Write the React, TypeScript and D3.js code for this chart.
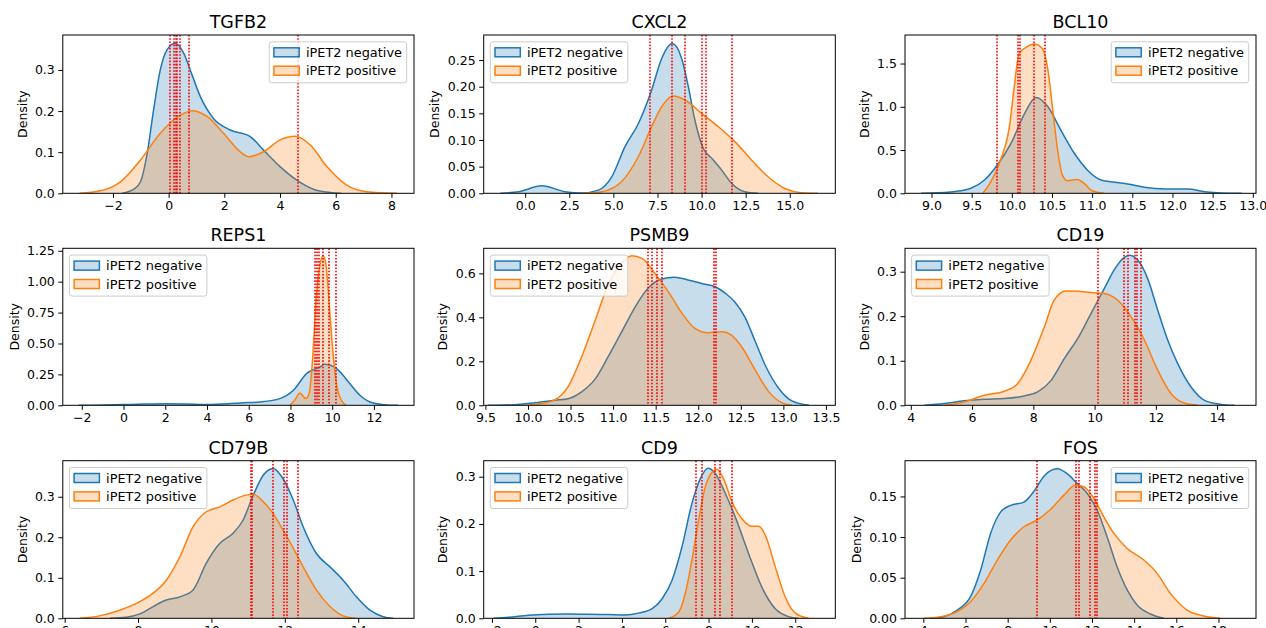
import React, { useRef, useEffect } from 'react';
import * as d3 from 'd3';

const W = 1266;
const H = 628;
const BLUE = '#1f77b4';
const ORANGE = '#ff7f0e';
const FONT = '"DejaVu Sans", Verdana, sans-serif';

const genes = ['TGFB2', 'CXCL2', 'BCL10', 'REPS1', 'PSMB9', 'CD19', 'CD79B', 'CD9', 'FOS'];
const seriesLabels = ['iPET2 negative', 'iPET2 positive'];

// density curves: [x, density]
const tgfb2Neg = [[-1.67, 0], [-1.25, 0.01], [-1.01, 0.028], [-0.77, 0.097], [-0.54, 0.203], [-0.3, 0.3], [-0.06, 0.349], [0.24, 0.365], [0.54, 0.341], [0.84, 0.288], [1.14, 0.235], [1.61, 0.182], [2.21, 0.154], [2.93, 0.138], [3.41, 0.105], [4.0, 0.065], [4.6, 0.032], [5.2, 0.01], [5.8, 0.002], [6.2, 0]];
const tgfb2Pos = [[-3.2, 0], [-2.45, 0.006], [-1.73, 0.028], [-1.01, 0.081], [-0.3, 0.146], [0.42, 0.19], [0.84, 0.201], [1.38, 0.187], [1.97, 0.146], [2.57, 0.101], [2.87, 0.089], [3.41, 0.101], [4.0, 0.13], [4.54, 0.139], [5.08, 0.118], [5.68, 0.065], [6.39, 0.02], [7.11, 0.004], [8.19, 0]];
const cxcl2Neg = [[-1.41, 0], [-0.37, 0.003], [0.94, 0.014], [2.26, 0.003], [3.21, 0.0005], [4.15, 0.006], [4.91, 0.031], [5.66, 0.0875], [6.42, 0.131], [7.17, 0.194], [7.74, 0.253], [8.34, 0.281], [8.87, 0.253], [9.25, 0.2], [9.62, 0.1375], [10.1, 0.084], [10.57, 0.066], [11.13, 0.044], [11.7, 0.019], [12.45, 0.003], [13.21, 0]];
const cxcl2Pos = [[3.3, 0], [4.34, 0.003], [5.47, 0.022], [6.42, 0.069], [7.17, 0.125], [7.74, 0.1625], [8.4, 0.1825], [9.06, 0.175], [10.0, 0.15], [10.95, 0.125], [11.89, 0.097], [12.83, 0.0625], [13.77, 0.031], [14.72, 0.009], [15.66, 0.001], [16.6, 0]];
const bcl10Neg = [[8.87, 0], [9.24, 0.015], [9.49, 0.058], [9.66, 0.154], [9.82, 0.327], [9.99, 0.577], [10.16, 0.923], [10.3, 1.108], [10.45, 1.0], [10.61, 0.73], [10.78, 0.46], [10.94, 0.27], [11.11, 0.154], [11.28, 0.127], [11.44, 0.108], [11.65, 0.069], [11.9, 0.05], [12.19, 0.05], [12.4, 0.019], [12.61, 0.004], [12.86, 0]];
const bcl10Pos = [[9.64, 0], [9.74, 0.135], [9.86, 0.385], [9.97, 0.77], [10.03, 1.23], [10.09, 1.615], [10.18, 1.69], [10.28, 1.727], [10.38, 1.673], [10.45, 1.42], [10.51, 0.96], [10.57, 0.5], [10.63, 0.21], [10.69, 0.146], [10.82, 0.16], [10.9, 0.115], [11.0, 0.03], [11.15, 0]];
const reps1Neg = [[-2.15, 0], [-1.0, 0.002], [0, 0.006], [1, 0.01], [2, 0.013], [3, 0.011], [4, 0.006], [5, 0.012], [5.6, 0.019], [6.55, 0.027], [7.49, 0.054], [8.13, 0.12], [8.77, 0.256], [9.41, 0.31], [9.65, 0.332], [10.21, 0.297], [10.85, 0.175], [11.33, 0.081], [11.81, 0.027], [12.61, 0.003], [13.15, 0]];
const reps1Pos = [[7.97, 0], [8.2, 0.04], [8.45, 0.1], [8.74, 0.054], [8.9, 0.1], [9.05, 0.35], [9.24, 0.88], [9.43, 1.15], [9.56, 1.21], [9.69, 1.15], [9.88, 0.77], [10.04, 0.42], [10.23, 0.15], [10.44, 0.04], [10.68, 0]];
const psmb9Neg = [[9.53, 0], [9.84, 0.003], [10.08, 0.012], [10.32, 0.023], [10.47, 0.03], [10.63, 0.061], [10.79, 0.12], [10.94, 0.22], [11.1, 0.334], [11.26, 0.448], [11.41, 0.532], [11.57, 0.574], [11.72, 0.582], [11.88, 0.57], [12.04, 0.554], [12.2, 0.539], [12.32, 0.509], [12.43, 0.47], [12.55, 0.4], [12.67, 0.29], [12.79, 0.18], [12.94, 0.08], [13.1, 0.02], [13.3, 0]];
const psmb9Pos = [[9.96, 0], [10.16, 0.008], [10.32, 0.026], [10.47, 0.084], [10.63, 0.22], [10.79, 0.387], [10.94, 0.547], [11.1, 0.646], [11.22, 0.68], [11.34, 0.668], [11.49, 0.6], [11.65, 0.516], [11.81, 0.418], [11.96, 0.35], [12.12, 0.33], [12.28, 0.334], [12.39, 0.319], [12.51, 0.266], [12.67, 0.16], [12.83, 0.061], [12.98, 0.012], [13.1, 0]];
const cd19Neg = [[4.44, 0], [5.09, 0.004], [5.74, 0.01], [6.4, 0.0135], [7.05, 0.015], [7.7, 0.021], [8.14, 0.03], [8.58, 0.056], [9.01, 0.105], [9.45, 0.15], [9.88, 0.206], [10.32, 0.2625], [10.64, 0.304], [10.97, 0.332], [11.14, 0.337], [11.41, 0.326], [11.73, 0.285], [12.06, 0.214], [12.39, 0.146], [12.71, 0.094], [13.15, 0.041], [13.59, 0.011], [14.13, 0.002], [14.57, 0]];
const cd19Pos = [[5.09, 0], [5.74, 0.0075], [6.4, 0.0225], [7.05, 0.0315], [7.49, 0.049], [7.92, 0.101], [8.36, 0.176], [8.68, 0.236], [9.07, 0.2565], [9.45, 0.256], [9.88, 0.253], [10.32, 0.251], [10.75, 0.236], [11.19, 0.199], [11.63, 0.146], [12.06, 0.079], [12.5, 0.026], [12.93, 0.005], [13.37, 0]];
const cd79bNeg = [[7.23, 0], [7.68, 0.0025], [8.05, 0.011], [8.41, 0.029], [8.77, 0.045], [9.14, 0.053], [9.5, 0.07], [9.86, 0.136], [10.23, 0.185], [10.59, 0.21], [10.86, 0.242], [11.14, 0.304], [11.41, 0.353], [11.68, 0.37], [11.95, 0.345], [12.23, 0.292], [12.5, 0.226], [12.86, 0.16], [13.23, 0.127], [13.59, 0.094], [13.95, 0.053], [14.32, 0.02], [14.68, 0.004], [14.95, 0]];
const cd79bPos = [[6.41, 0], [6.95, 0.006], [7.5, 0.02], [8.05, 0.041], [8.41, 0.062], [8.77, 0.094], [9.14, 0.152], [9.5, 0.226], [9.86, 0.263], [10.23, 0.275], [10.59, 0.292], [10.95, 0.304], [11.14, 0.306], [11.41, 0.288], [11.68, 0.259], [11.95, 0.218], [12.23, 0.173], [12.5, 0.127], [12.86, 0.07], [13.23, 0.029], [13.59, 0.006], [13.95, 0]];
const cd9Neg = [[-1.92, 0], [-1.23, 0.002], [-0.31, 0.0064], [0.62, 0.0085], [1.54, 0.0092], [2.46, 0.0085], [3.38, 0.0078], [4.15, 0.0071], [4.77, 0.011], [5.38, 0.02], [5.85, 0.041], [6.31, 0.08], [6.77, 0.151], [7.23, 0.243], [7.62, 0.296], [7.97, 0.318], [8.31, 0.307], [8.77, 0.265], [9.23, 0.215], [9.85, 0.137], [10.46, 0.066], [11.08, 0.02], [11.69, 0.0035], [12.15, 0]];
const cd9Pos = [[6.15, 0], [6.62, 0.013], [6.92, 0.052], [7.23, 0.123], [7.54, 0.208], [7.85, 0.279], [8.15, 0.309], [8.38, 0.316], [8.69, 0.296], [9.08, 0.247], [9.54, 0.211], [10.0, 0.195], [10.31, 0.195], [10.62, 0.176], [11.08, 0.109], [11.54, 0.045], [12.0, 0.011], [12.62, 0]];
const fosNeg = [[4.35, 0], [4.98, 0.002], [5.61, 0.0102], [6.24, 0.0266], [6.72, 0.0594], [7.19, 0.1045], [7.67, 0.131], [8.14, 0.139], [8.77, 0.143], [9.24, 0.156], [9.72, 0.175], [10.35, 0.184], [10.82, 0.178], [11.3, 0.166], [11.77, 0.154], [12.25, 0.133], [12.72, 0.1], [13.19, 0.0635], [13.67, 0.035], [14.14, 0.0164], [14.77, 0.0053], [15.41, 0]];
const fosPos = [[4.03, 0], [4.82, 0.002], [5.61, 0.0082], [6.24, 0.0205], [6.88, 0.043], [7.51, 0.0717], [8.14, 0.0963], [8.77, 0.1127], [9.4, 0.121], [10.03, 0.134], [10.67, 0.1516], [11.22, 0.164], [11.61, 0.162], [12.09, 0.1475], [12.56, 0.125], [13.04, 0.1045], [13.67, 0.086], [14.46, 0.0717], [15.09, 0.0553], [15.72, 0.0307], [16.51, 0.0102], [17.3, 0.0029], [18.09, 0]];

// red dotted marker positions
const tgfb2Marks = [0.06, 0.18, 0.27, 0.31, 0.42, 0.72, 4.64];
const cxcl2Marks = [7.1, 8.34, 9.06, 10.04, 10.24, 11.7];
const bcl10Marks = [9.81, 10.08, 10.1, 10.27, 10.41];
const reps1Marks = [9.17, 9.28, 9.38, 9.57, 9.86, 10.16];
const psmb9Marks = [11.41, 11.46, 11.52, 11.57, 12.19, 12.21];
const cd19Marks = [10.12, 10.95, 11.08, 11.32, 11.39, 11.52];
const cd79bMarks = [11.07, 11.11, 11.68, 11.97, 12.06, 12.36];
const cd9Marks = [7.43, 7.69, 8.31, 8.51, 9.08];
const fosMarks = [9.4, 11.22, 11.38, 11.9, 12.12, 12.25];

// axis limits and ticks
const xLimits = [[-3.8, 8.81], [-2.35, 17.58], [8.67, 13.04], [-2.91, 13.92], [9.48, 13.61], [3.81, 15.27], [5.95, 15.52], [-2.38, 13.85], [3.13, 19.78]];
const yTops = [0.385, 0.297, 1.83, 1.27, 0.714, 0.3525, 0.389, 0.334, 0.194];
const xTickVals = [
  [-2, 0, 2, 4, 6, 8],
  [0, 2.5, 5, 7.5, 10, 12.5, 15],
  [9, 9.5, 10, 10.5, 11, 11.5, 12, 12.5, 13],
  [-2, 0, 2, 4, 6, 8, 10, 12],
  [9.5, 10, 10.5, 11, 11.5, 12, 12.5, 13, 13.5],
  [4, 6, 8, 10, 12, 14],
  [6, 8, 10, 12, 14],
  [-2, 0, 2, 4, 6, 8, 10, 12],
  [4, 6, 8, 10, 12, 14, 16, 18],
];
const yTickVals = [
  [0, 0.1, 0.2, 0.3],
  [0, 0.05, 0.1, 0.15, 0.2, 0.25],
  [0, 0.5, 1, 1.5],
  [0, 0.25, 0.5, 0.75, 1, 1.25],
  [0, 0.2, 0.4, 0.6],
  [0, 0.1, 0.2, 0.3],
  [0, 0.1, 0.2, 0.3],
  [0, 0.1, 0.2, 0.3],
  [0, 0.05, 0.1, 0.15],
];
const xFormats = ['d', '.1f', '.1f', 'd', '.1f', 'd', 'd', 'd', 'd'];
const yFormats = ['.1f', '.2f', '.1f', '.2f', '.1f', '.1f', '.1f', '.1f', '.2f'];
const legendSides = ['right', 'left', 'right', 'left', 'left', 'left', 'left', 'left', 'right'];

const negCurves = [tgfb2Neg, cxcl2Neg, bcl10Neg, reps1Neg, psmb9Neg, cd19Neg, cd79bNeg, cd9Neg, fosNeg];
const posCurves = [tgfb2Pos, cxcl2Pos, bcl10Pos, reps1Pos, psmb9Pos, cd19Pos, cd79bPos, cd9Pos, fosPos];
const markLists = [tgfb2Marks, cxcl2Marks, bcl10Marks, reps1Marks, psmb9Marks, cd19Marks, cd79bMarks, cd9Marks, fosMarks];

// grid of axes boxes (pixels)
const colLeft = [62.8, 483.7, 905];
const colRight = [414, 835.3, 1256];
const rowTop = [35, 248.3, 460.7];
const rowBottom = [193.3, 405.3, 618.3];

const TICK_FS = 12.5;
const LEGEND_FS = 12.9;
const TITLE_FS = 17.5;

export default function App() {
  const svgRef = useRef<SVGSVGElement>(null);

  useEffect(() => {
    const svg = d3.select(svgRef.current);
    svg.selectAll('*').remove();
    svg.append('rect').attr('width', W).attr('height', H).attr('fill', '#fff');

    genes.forEach((gene, i) => {
      const col = i % 3;
      const row = Math.floor(i / 3);
      const x0 = colLeft[col], x1 = colRight[col];
      const y0 = rowTop[row], y1 = rowBottom[row];

      const x = d3.scaleLinear().domain(xLimits[i]).range([x0, x1]);
      const y = d3.scaleLinear().domain([0, yTops[i]]).range([y1, y0]);

      const g = svg.append('g');
      const clipId = `clip-${i}`;
      g.append('clipPath').attr('id', clipId)
        .append('rect').attr('x', x0).attr('y', y0).attr('width', x1 - x0).attr('height', y1 - y0);
      const plot = g.append('g').attr('clip-path', `url(#${clipId})`);

      const area = d3.area<number[]>()
        .x(d => x(d[0])).y0(y(0)).y1(d => y(d[1]))
        .curve(d3.curveMonotoneX);
      const line = d3.line<number[]>()
        .x(d => x(d[0])).y(d => y(d[1]))
        .curve(d3.curveMonotoneX);

      [[negCurves[i], BLUE], [posCurves[i], ORANGE]].forEach(([data, c]: any) => {
        plot.append('path').datum(data).attr('d', area)
          .attr('fill', c).attr('fill-opacity', 0.25);
        plot.append('path').datum(data).attr('d', line)
          .attr('fill', 'none').attr('stroke', c).attr('stroke-width', 1.5);
      });

      // red dotted lines
      plot.selectAll('line.mark').data(markLists[i]).enter().append('line')
        .attr('class', 'mark')
        .attr('x1', d => Math.round(x(d))).attr('x2', d => Math.round(x(d)))
        .attr('y1', y0).attr('y2', y1)
        .attr('stroke', '#ff0000').attr('stroke-width', 1.6)
        .attr('stroke-dasharray', '1.6,1.6');

      // spines
      g.append('rect').attr('x', x0).attr('y', y0).attr('width', x1 - x0).attr('height', y1 - y0)
        .attr('fill', 'none').attr('stroke', '#000').attr('stroke-width', 1);

      const xa = g.append('g').attr('transform', `translate(0,${y1})`)
        .call(d3.axisBottom(x).tickValues(xTickVals[i]).tickFormat(d3.format(xFormats[i]) as any)
          .tickSizeOuter(0).tickSize(4.5).tickPadding(3.5));
      xa.select('.domain').remove();
      xa.attr('font-size', TICK_FS).attr('font-family', FONT);
      xa.selectAll('text').attr('fill', '#000');

      const ya = g.append('g').attr('transform', `translate(${x0},0)`)
        .call(d3.axisLeft(y).tickValues(yTickVals[i]).tickFormat(d3.format(yFormats[i]) as any)
          .tickSizeOuter(0).tickSize(4.5).tickPadding(3.5));
      ya.select('.domain').remove();
      ya.attr('font-size', TICK_FS).attr('font-family', FONT);
      ya.selectAll('text').attr('fill', '#000');

      const bb = (ya.node() as SVGGElement).getBBox();
      const labelX = x0 + bb.x - 8.4;
      g.append('text')
        .attr('transform', `translate(${labelX},${(y0 + y1) / 2}) rotate(-90)`)
        .attr('text-anchor', 'middle')
        .attr('font-family', FONT).attr('font-size', TICK_FS).attr('fill', '#000')
        .text('Density');

      g.append('text')
        .attr('x', (x0 + x1) / 2).attr('y', y0 - 7)
        .attr('text-anchor', 'middle')
        .attr('font-family', FONT).attr('font-size', TITLE_FS).attr('fill', '#000')
        .text(gene);

      // legend
      const lw = 137.5, lh = 41;
      const lx = legendSides[i] === 'right' ? x1 - 7.3 - lw : x0 + 6.6;
      const ly = y0 + 6.8;
      g.append('rect').attr('x', lx).attr('y', ly).attr('width', lw).attr('height', lh)
        .attr('rx', 2.6).attr('fill', '#fff').attr('fill-opacity', 0.8)
        .attr('stroke', '#cccccc').attr('stroke-width', 1);
      seriesLabels.forEach((label, k) => {
        const c = k === 0 ? BLUE : ORANGE;
        const py = ly + 6 + k * 18.4;
        g.append('rect').attr('x', lx + 4.7).attr('y', py).attr('width', 25.3).attr('height', 9)
          .attr('fill', c).attr('fill-opacity', 0.25).attr('stroke', c).attr('stroke-width', 1.5);
        g.append('text').attr('x', lx + 36.7).attr('y', py + 9.2)
          .attr('font-family', FONT).attr('font-size', LEGEND_FS).attr('fill', '#000')
          .text(label);
      });
    });
  }, []);

  return (
    <svg ref={svgRef} width={W} height={H}
      style={{ position: 'absolute', left: 0, top: 0, display: 'block' }} />
  );
}
